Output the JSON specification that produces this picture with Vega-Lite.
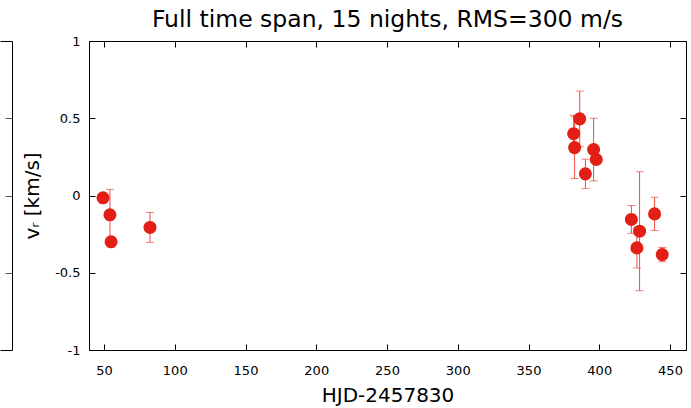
{
  "$schema": "https://vega.github.io/schema/vega-lite/v6.json",
  "padding": {"left": 0, "top": 7, "right": 0, "bottom": 0},
  "bounds": "flush",
  "spacing": 77,
  "config": {
    "font": "DejaVu Sans",
    "view": {"stroke": null},
    "axis": {
      "grid": false,
      "domain": false,
      "tickColor": "#000000",
      "tickSize": -6,
      "labelFont": "DejaVu Sans",
      "labelFontSize": 13,
      "labelColor": "#000000",
      "labelPadding": 8,
      "titleFont": "DejaVu Sans",
      "titleFontSize": 20,
      "titleFontWeight": "normal",
      "titleColor": "#000000"
    }
  },
  "hconcat": [
    {
      "width": 12,
      "height": 309,
      "data": {"values": []},
      "layer": [
        {
          "mark": {"type": "point", "opacity": 0},
          "encoding": {
            "x": {"field": "hjd", "type": "quantitative", "scale": {"domain": [0, 1]},
                  "axis": {"orient": "bottom", "title": null, "labels": false, "ticks": false, "domain": true, "domainColor": "#000000"}},
            "y": {"field": "vr", "type": "quantitative", "scale": {"domain": [-1, 1]},
                  "axis": {"orient": "right", "title": null, "labels": false, "domain": true, "domainColor": "#000000", "values": [-0.5, 0, 0.5], "tickSize": -7, "tickColor": "#555555"}}
          }
        },
        {
          "mark": {"type": "point", "opacity": 0},
          "encoding": {
            "x": {"field": "hjd", "type": "quantitative", "scale": {"domain": [0, 1]},
                  "axis": {"orient": "top", "title": null, "labels": false, "ticks": false, "domain": true, "domainColor": "#000000"}}
          }
        }
      ],
      "resolve": {"axis": {"x": "independent"}}
    },
    {
      "width": 597,
      "height": 309,
      "view": {"stroke": "#000000", "strokeWidth": 1},
      "title": {"text": "Full time span, 15 nights, RMS=300 m/s", "fontSize": 23.5, "fontWeight": "normal", "color": "#000000", "anchor": "middle", "offset": 4},
      "data": {
        "values": [
          {"hjd": 49.3, "vr": -0.015, "err": 0.02},
          {"hjd": 54.2, "vr": -0.125, "err": 0.165},
          {"hjd": 55.0, "vr": -0.3, "err": 0.02},
          {"hjd": 82.5, "vr": -0.207, "err": 0.097},
          {"hjd": 381.9, "vr": 0.4, "err": 0.12},
          {"hjd": 382.6, "vr": 0.31, "err": 0.2},
          {"hjd": 386.2, "vr": 0.496, "err": 0.18},
          {"hjd": 390.2, "vr": 0.14, "err": 0.095},
          {"hjd": 396.0, "vr": 0.297, "err": 0.203},
          {"hjd": 397.9, "vr": 0.233, "err": 0.03},
          {"hjd": 422.7, "vr": -0.155, "err": 0.09},
          {"hjd": 426.6, "vr": -0.339, "err": 0.13},
          {"hjd": 428.5, "vr": -0.231, "err": 0.385},
          {"hjd": 439.1, "vr": -0.119, "err": 0.108},
          {"hjd": 444.5, "vr": -0.382, "err": 0.046}
        ]
      },
      "layer": [
        {
          "mark": {"type": "errorbar", "color": "#ec4a42", "thickness": 1, "ticks": {"size": 8, "thickness": 1, "color": "#ec4a42"}},
          "encoding": {
            "x": {"field": "hjd", "type": "quantitative", "scale": {"domain": [39.4, 461.3], "nice": false},
                  "axis": {"orient": "bottom", "title": "HJD-2457830", "values": [50, 100, 150, 200, 250, 300, 350, 400, 450], "labelPadding": 20, "titlePadding": 8}},
            "y": {"field": "vr", "type": "quantitative", "scale": {"domain": [-1, 1], "nice": false},
                  "axis": {"orient": "left", "title": "vᵣ [km/s]", "values": [-1, -0.5, 0, 0.5, 1], "labelExpr": "'' + datum.value", "labelPadding": 15, "titlePadding": 12}},
            "yError": {"field": "err"}
          }
        },
        {
          "mark": {"type": "circle", "size": 170, "color": "#e31e14", "opacity": 1},
          "encoding": {
            "x": {"field": "hjd", "type": "quantitative", "scale": {"domain": [39.4, 461.3], "nice": false},
                  "axis": {"orient": "top", "title": null, "labels": false, "values": [50, 100, 150, 200, 250, 300, 350, 400, 450]}},
            "y": {"field": "vr", "type": "quantitative", "scale": {"domain": [-1, 1], "nice": false},
                  "axis": {"orient": "right", "title": null, "labels": false, "values": [-1, -0.5, 0, 0.5, 1]}}
          }
        }
      ],
      "resolve": {"axis": {"x": "independent", "y": "independent"}}
    }
  ]
}
